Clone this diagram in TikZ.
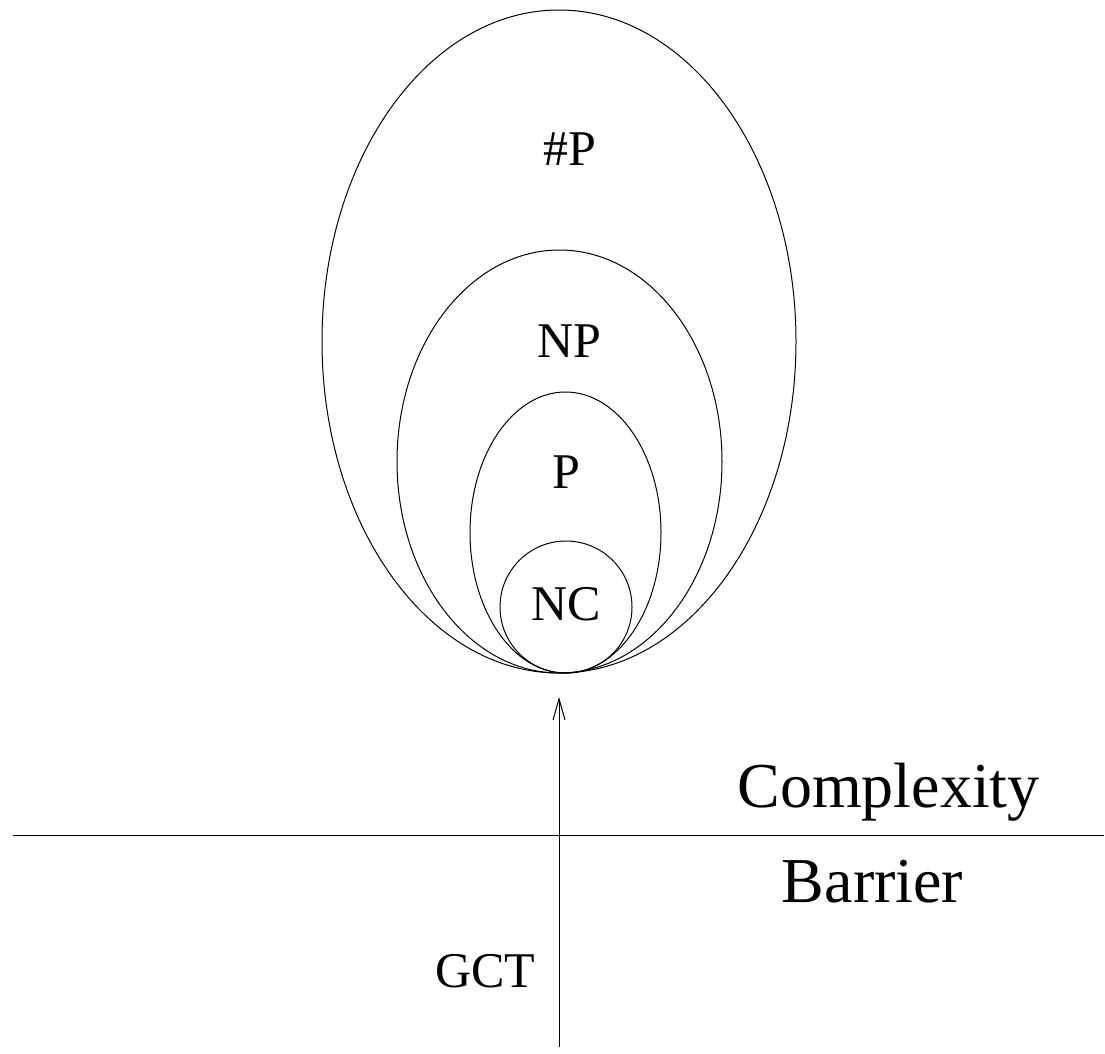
\documentclass[tikz,border=0pt]{standalone}
\usepackage{fontspec}
\setmainfont{Liberation Serif}
\usetikzlibrary{shapes.geometric,arrows.meta}

\begin{document}
\begin{tikzpicture}[x=1pt,y=-1pt,
  line width=1pt,
  classset/.style={draw,ellipse,inner sep=0pt},
  classlabel/.style={anchor=base,inner sep=0pt,font=\fontsize{50}{50}\selectfont},
  barrierlabel/.style={anchor=base,inner sep=0pt,font=\fontsize{64}{64}\selectfont},
  pointer/.style={-{Straight Barb[length=21pt,width=12pt]}}]
  \useasboundingbox (0,0) rectangle (1105,1053);

  % nested complexity classes, all touching at the bottom
  \node[classset,minimum width=474pt,minimum height=663pt] (sharpp) at (559,341.5) {};
  \node[classset,minimum width=325pt,minimum height=423pt] (np) at (559.5,461.5) {};
  \node[classset,minimum width=191pt,minimum height=281pt] (p) at (565.5,532.5) {};
  \node[classset,minimum width=132pt,minimum height=132pt] (nc) at (566,607) {};

  \node[classlabel] (lsharpp) at (570,165) {\#P};
  \node[classlabel] (lnp) at (569.5,357) {NP};
  \node[classlabel] (lp) at (566.5,488) {P};
  \node[classlabel] (lnc) at (566,620) {NC};

  % the barrier line
  \coordinate (barrierL) at (13,835);
  \coordinate (barrierR) at (1104,835);
  \draw (barrierL) -- (barrierR);
  \node[barrierlabel] (complexity) at (888.5,807) {Complexity};
  \node[barrierlabel] (barrier) at (872.5,902) {Barrier};

  % the GCT approach crossing the barrier
  \coordinate (gctfoot) at (559,1047);
  \coordinate (gcttip) at (559,697);
  \draw[pointer] (gctfoot) -- (gcttip);
  \node[classlabel] (gct) at (485,987) {GCT};
\end{tikzpicture}
\end{document}
